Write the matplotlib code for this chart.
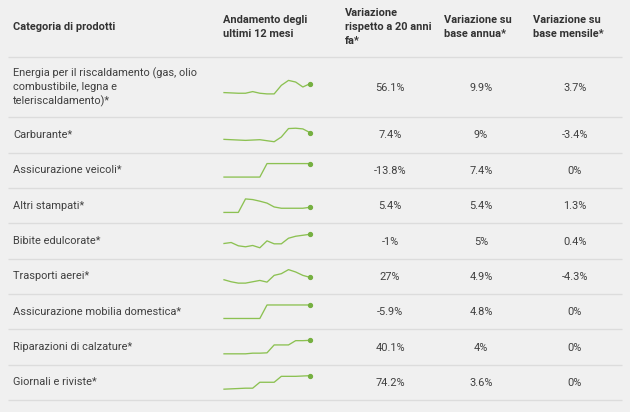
import matplotlib
matplotlib.use("Agg")
import matplotlib.pyplot as plt

# ---- data ----
headers = ["Categoria di prodotti",
           "Andamento degli\nultimi 12 mesi",
           "Variazione\nrispetto a 20 anni\nfa*",
           "Variazione su\nbase annua*",
           "Variazione su\nbase mensile*"]

categories = ["Energia per il riscaldamento (gas, olio\ncombustibile, legna e\nteleriscaldamento)*",
              "Carburante*",
              "Assicurazione veicoli*",
              "Altri stampati*",
              "Bibite edulcorate*",
              "Trasporti aerei*",
              "Assicurazione mobilia domestica*",
              "Riparazioni di calzature*",
              "Giornali e riviste*"]

var_20_anni = ["56.1%", "7.4%", "-13.8%", "5.4%", "-1%", "27%", "-5.9%", "40.1%", "74.2%"]
var_annua = ["9.9%", "9%", "7.4%", "5.4%", "5%", "4.9%", "4.8%", "4%", "3.6%"]
var_mensile = ["3.7%", "-3.4%", "0%", "1.3%", "0.4%", "-4.3%", "0%", "0%", "0%"]

# last 12 months trend (relative index, read from sparklines)
trend_energia = [18, 17, 16, 16, 21, 16, 14, 14, 40, 55, 50, 35, 45]
trend_carburante = [18, 17, 16, 15, 16, 17, 14, 11, 25, 50, 51, 49, 38]
trend_ass_veicoli = [100, 100, 100, 100, 100, 100, 107, 107, 107, 107, 107, 107, 107]
trend_stampati = [3, 3, 3, 45, 43, 38, 32, 20, 16, 16, 16, 16, 19]
trend_bibite = [17, 20, 10, 7, 11, 4, 25, 16, 16, 33, 39, 42, 45]
trend_aerei = [12, 6, 2, 2, 6, 10, 5, 25, 30, 42, 35, 25, 19]
trend_ass_mobilia = [100, 100, 100, 100, 100, 100, 105, 105, 105, 105, 105, 105, 105]
trend_calzature = [2, 2, 2, 2, 4, 4, 5, 29, 29, 29, 42, 42, 43]
trend_giornali = [5, 6, 7, 8, 8, 26, 26, 26, 44, 44, 44, 45, 46]

trends = [trend_energia, trend_carburante, trend_ass_veicoli, trend_stampati,
          trend_bibite, trend_aerei, trend_ass_mobilia, trend_calzature, trend_giornali]

# ---- style ----
BG = "#f0f0f0"
SEP = "#dcdcdc"
TXT = "#404040"
HDR = "#333333"
LINE = "#8cc152"
DOT = "#76b041"
FONT = "Roboto"
FS = 7.95
W, H = 630, 412

fig = plt.figure(figsize=(6.3, 4.12), dpi=100, facecolor=BG)
ax = fig.add_axes([0, 0, 1, 1])
ax.set_xlim(0, W)
ax.set_ylim(H, 0)
ax.axis("off")
ax.set_facecolor(BG)

LINE_H = 13.7


def mtext(x, yc, s, ha="left", bold=False, color=TXT):
    lines = s.split("\n")
    n = len(lines)
    for i, ln in enumerate(lines):
        y = yc + (i - (n - 1) / 2) * LINE_H
        ax.text(x, y, ln, ha=ha, va="center", fontsize=FS, family=FONT,
                fontweight="bold" if bold else "normal", color=color)


# header
hdr_x = [13, 223, 345, 444, 533]
for x, h in zip(hdr_x, headers):
    mtext(x, 27, h, bold=True, color=HDR)

# separators
seps = [57, 117.3]
row_h = 35.35
for k in range(1, 9):
    seps.append(117.3 + row_h * k)
ax.hlines(seps, 8, 622, color=SEP, lw=1)

val_x = [390, 481, 575]
spark_x0, spark_w, spark_h = 224, 86, 13.5

for i, cat in enumerate(categories):
    yc = (seps[i] + seps[i + 1]) / 2
    mtext(13, yc, cat)
    for x, col in zip(val_x, (var_20_anni, var_annua, var_mensile)):
        mtext(x, yc + 0.5, col[i], ha="center")
    # sparkline
    sax = fig.add_axes([spark_x0 / W, 1 - (yc + spark_h / 2) / H, spark_w / W, spark_h / H])
    sax.axis("off")
    vals = trends[i]
    xs = list(range(len(vals)))
    sax.plot(xs, vals, color=LINE, lw=0.95, solid_joinstyle="round", clip_on=False)
    sax.plot([xs[-1]], [vals[-1]], "o", color=DOT, ms=2.8, clip_on=False)
    sax.set_xlim(0, len(vals) - 1)
    sax.set_ylim(min(vals), max(vals))

fig.savefig("out.png", dpi=100, facecolor=BG)
